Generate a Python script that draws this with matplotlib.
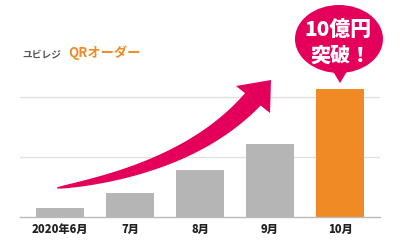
import matplotlib
matplotlib.use("Agg")
import matplotlib.pyplot as plt
import numpy as np
from matplotlib.patches import Polygon, Ellipse
from matplotlib.transforms import Affine2D

plt.rcParams['font.family'] = ['Noto Sans CJK JP', 'DejaVu Sans']

months = ["2020年6月", "7月", "8月", "9月", "10月"]
values = [0.15, 0.40, 0.78, 1.22, 2.13]
bar_colors = ["#b5b5b6", "#b5b5b6", "#b5b5b6", "#b5b5b6", "#f08a24"]
magenta = "#e4005a"

fig = plt.figure(figsize=(4, 2.42), dpi=100)
ax = fig.add_axes([0.05, 25 / 242, 0.9, 210 / 242])

x = np.arange(len(months))
ax.bar(x, values, width=0.686, color=bar_colors, zorder=2)
ax.set_xlim(-0.571, 4.571)
ax.set_ylim(0, 3.5)
ax.set_yticks([1, 2])
ax.yaxis.grid(True, color="#e2e2e2", linewidth=1, zorder=0)
ax.tick_params(axis="y", left=False, labelleft=False)
ax.tick_params(axis="x", length=0, pad=4)
ax.set_xticks(x)
ax.set_xticklabels(months, fontsize=8, fontweight="heavy", color="#222222")
for s in ["top", "right", "left"]:
    ax.spines[s].set_visible(False)
ax.spines["bottom"].set_color("#bbbbbb")
ax.spines["bottom"].set_linewidth(1)

# pixel coords (top-left origin) -> figure
px = Affine2D().scale(1 / 400, -1 / 242).translate(0, 1) + fig.transFigure

# curved tapered arrow
p0 = np.array([57, 188.0])
p2 = np.array([254, 98.0])
p1 = p2 - 3.5 * np.array([18, -20.0])
t = np.linspace(0, 1, 80)[:, None]
c = (1 - t) ** 2 * p0 + 2 * (1 - t) * t * p1 + t ** 2 * p2
d = 2 * (1 - t) * (p1 - p0) + 2 * t * (p2 - p1)
d = d / np.linalg.norm(d, axis=1, keepdims=True)
n = np.column_stack([d[:, 1], -d[:, 0]])
w = 0.5 + 9.5 * t[:, 0] ** 0.62
upper = c + n * w[:, None]
lower = c - n * w[:, None]
body = np.vstack([upper, lower[::-1]])
fig.patches.append(Polygon(body, closed=True, transform=px, color=magenta, lw=0))
head = np.array([[236, 86], [271, 80], [270, 113]])
fig.patches.append(Polygon(head, closed=True, transform=px, color=magenta, lw=0))

# speech bubble
fig.patches.append(Ellipse((339, 39), 88, 68, transform=px, color=magenta, lw=0))
fig.patches.append(Polygon([[331, 68], [349, 68], [340, 83]], closed=True,
                           transform=px, color=magenta, lw=0))
fig.text(338, 30, "10億円", transform=px, ha="center", va="center",
         color="white", fontsize=15, fontweight="heavy")
fig.text(341, 56, "突破！", transform=px, ha="center", va="center",
         color="white", fontsize=14.5, fontweight="heavy")

# logo
fig.text(22, 54, "ユビレジ", transform=px, ha="left", va="center",
         color="#555555", fontsize=7, fontweight="bold")
fig.text(68, 53, "QRオーダー", transform=px, ha="left", va="center",
         color="#f08a24", fontsize=9.5, fontweight="bold")

fig.savefig("out.png", dpi=100)
